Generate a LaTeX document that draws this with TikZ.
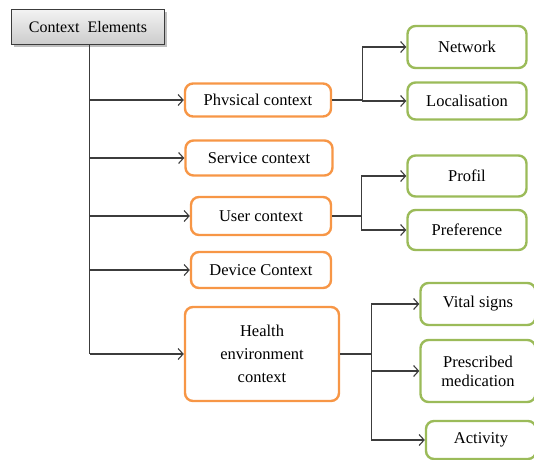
\documentclass[tikz,border=0pt]{standalone}
\usepackage{fontspec}
\setmainfont{Liberation Serif}
\usepackage{tikz}
\usetikzlibrary{arrows.meta}
\usetikzlibrary{shadows}
\definecolor{ctxorange}{RGB}{247,150,70}
\definecolor{ctxgreen}{RGB}{155,187,89}
\definecolor{ctxline}{RGB}{60,60,60}

\begin{document}
\begin{tikzpicture}[x=1pt,y=-1pt,
			every node/.style={font=\fontsize{16.5}{19}\selectfont, align=center, inner sep=2pt},
			rootbox/.style={draw=ctxline, line width=1.2pt, top color=gray!10, bottom color=gray!40,
				drop shadow={shadow xshift=2pt,shadow yshift=-2pt,opacity=.5},
				font=\fontsize{16}{18}\selectfont},
			catbox/.style={draw=ctxorange, line width=2.4pt, rounded corners=8pt, fill=white},
			leafbox/.style={draw=ctxgreen, line width=2.4pt, rounded corners=8pt, fill=white},
			link/.style={draw=ctxline, line width=1.1pt},
			arr/.style={link, -{Straight Barb[length=5pt,width=11pt]}}]
			\useasboundingbox (0,0) rectangle (534,459);
			
			% root
			\node[rootbox, minimum width=153pt, minimum height=35pt] (ctx) at (88,27) {Context\ \ Elements};
			
			% context categories
			\node[catbox, minimum width=146pt, minimum height=33pt] (phys) at (258,100) {Phvsical context};
			\node[catbox, minimum width=147pt, minimum height=35pt] (serv) at (259,158) {Service context};
			\node[catbox, minimum width=140pt, minimum height=38pt] (user) at (261,216) {User context};
			\node[catbox, minimum width=140pt, minimum height=36pt] (dev) at (261,270) {Device Context};
			\node[catbox, minimum width=154pt, minimum height=94pt, font=\fontsize{16.5}{23}\selectfont] (health) at (262,354) {Health\\ environment\\ context};
			
			% sub elements
			\node[leafbox, minimum width=119pt, minimum height=42pt] (net) at (467,47) {Network};
			\node[leafbox, minimum width=119pt, minimum height=37pt] (loc) at (467,101) {Localisation};
			\node[leafbox, minimum width=119pt, minimum height=41pt] (prof) at (467,176) {Profil};
			\node[leafbox, minimum width=119pt, minimum height=40pt] (pref) at (467,230) {Preference};
			\node[leafbox, minimum width=115pt, minimum height=42pt] (vital) at (478,304) {Vital signs};
			\node[leafbox, minimum width=115pt, minimum height=62pt] (med) at (478,371) {Prescribed\\ medication};
			\node[leafbox, minimum width=110pt, minimum height=38pt] (act) at (481,440) {Activity};
			
			% trunk
			\coordinate (trunk) at ([xshift=1.5pt]ctx.south);
			\draw[link] (trunk) -- (trunk |- health.west);
			\foreach \c in {phys,serv,user,dev,health}
				\draw[arr] (trunk |- \c.west) -- (\c.west);
			
			% branches
			\draw[link] (phys.east) -- ++(30,0) coordinate (b1);
			\draw[link] (b1 |- net.west) -- (b1 |- loc.west);
			\foreach \c in {net,loc}
				\draw[arr] (b1 |- \c.west) -- (\c.west);
			
			\draw[link] (user.east) -- ++(29,0) coordinate (b2);
			\draw[link] (b2 |- prof.west) -- (b2 |- pref.west);
			\foreach \c in {prof,pref}
				\draw[arr] (b2 |- \c.west) -- (\c.west);
			
			\draw[link] (health.east) -- ++(31,0) coordinate (b3);
			\draw[link] (b3 |- vital.west) -- (b3 |- act.west);
			\foreach \c in {vital,med,act}
				\draw[arr] (b3 |- \c.west) -- (\c.west);
		\end{tikzpicture}
\end{document}
